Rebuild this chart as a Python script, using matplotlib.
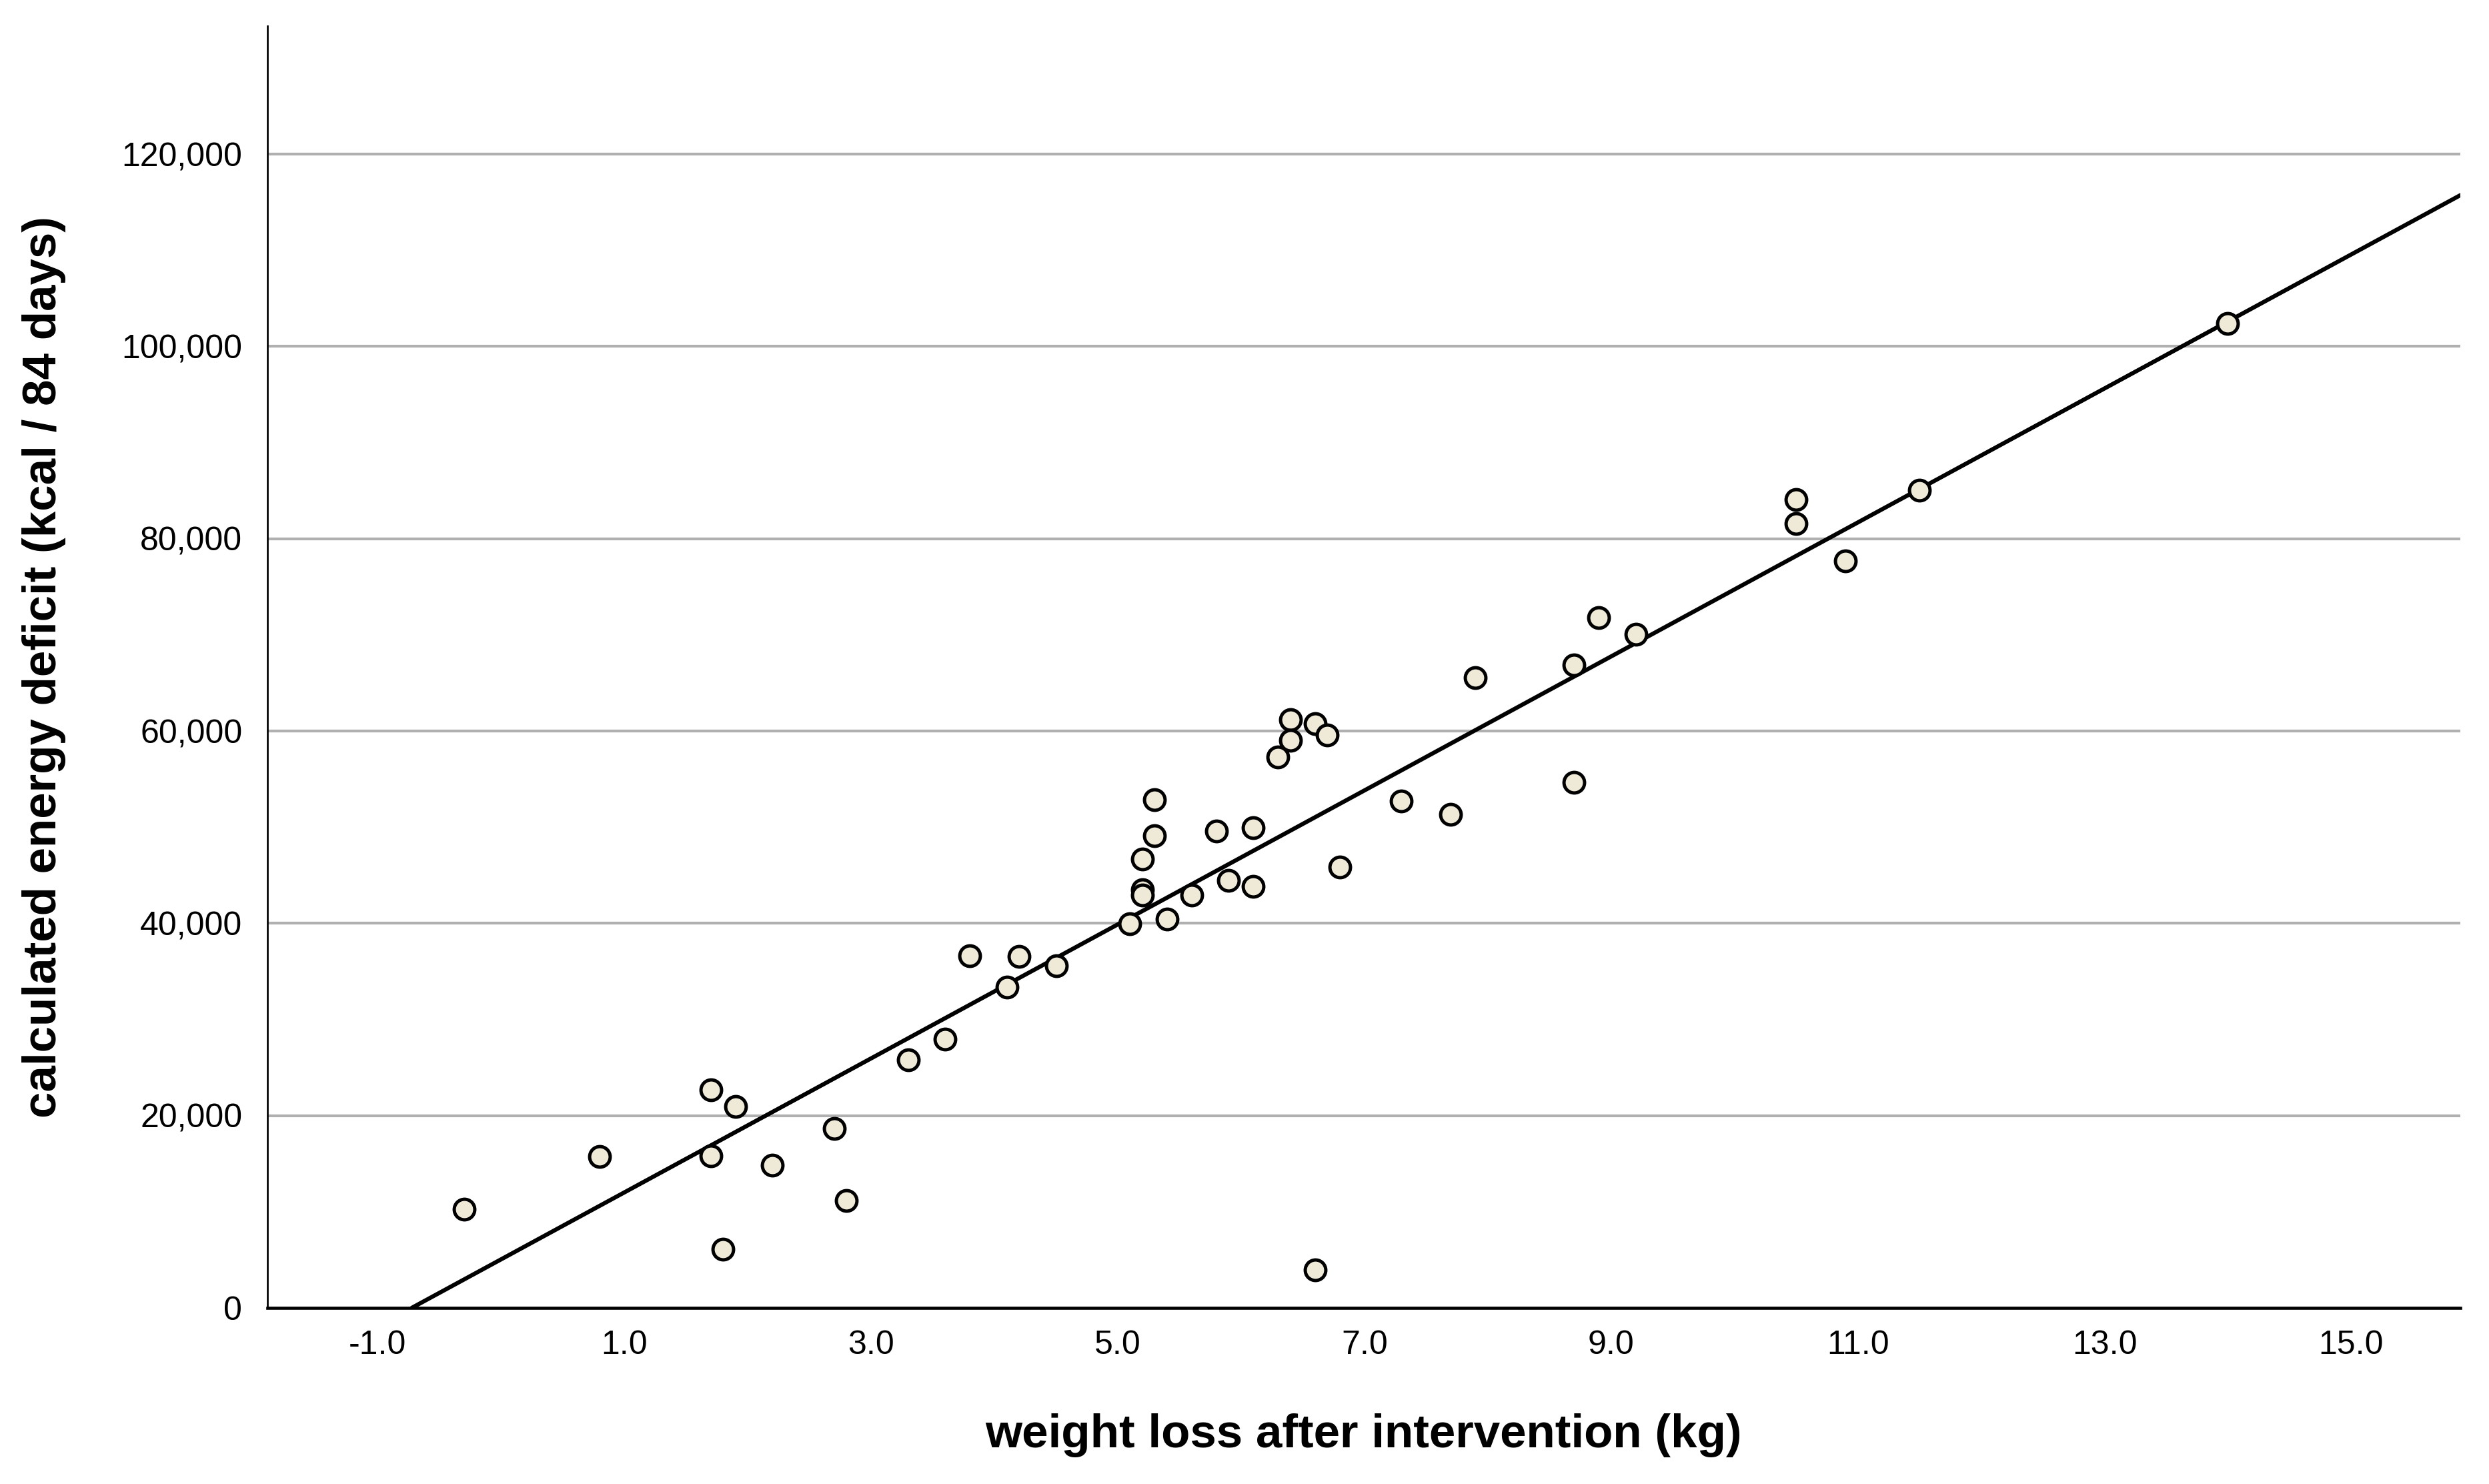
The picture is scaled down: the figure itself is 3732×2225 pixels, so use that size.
import numpy as np
import matplotlib
matplotlib.use("Agg")
import matplotlib.pyplot as plt
from matplotlib.ticker import FuncFormatter, FixedLocator

plt.rcParams['font.family'] = ['Liberation Sans', 'DejaVu Sans']

# weight loss after intervention (kg)
weight_loss = [-0.3, 0.8, 1.7, 1.7, 1.9, 1.8, 2.2, 2.7, 2.8, 3.3, 3.6, 3.8, 4.1, 4.2, 4.5,
               5.1, 5.2, 5.2, 5.2, 5.3, 5.3, 5.4, 5.6, 5.8, 5.9, 6.1, 6.1, 6.3, 6.4, 6.4,
               6.6, 6.7, 6.8, 6.6, 7.3, 7.7, 7.9, 8.7, 8.7, 8.9, 9.2, 10.5, 10.5, 10.9,
               11.5, 14.0]
# calculated energy deficit (kcal / 84 days)
energy_deficit = [10270, 15750, 22710, 15820, 20950, 6120, 14850, 18630, 11170, 25800, 27920,
                  36630, 33360, 36560, 35580, 39920, 46650, 43500, 42920, 52860, 49080, 40440,
                  42930, 49570, 44470, 49920, 43840, 57300, 61190, 59040, 60770, 59600, 45860,
                  3980, 52700, 51330, 65560, 66880, 54630, 71770, 70070, 84050, 81580, 77680,
                  85080, 102400]

x_ticks = [-1.0, 1.0, 3.0, 5.0, 7.0, 9.0, 11.0, 13.0, 15.0]
y_ticks = [0, 20000, 40000, 60000, 80000, 100000, 120000]
x_limits = (-1.895, 15.885)
y_limits = (0, 133350)

fig = plt.figure(figsize=(3732 / 300, 2225 / 300), dpi=300)
ax = fig.add_axes([0.1074, 0.1187, 0.9885 - 0.1074, 0.9826 - 0.1187])

ax.set_xlim(*x_limits)
ax.set_ylim(*y_limits)

# gridlines
ax.yaxis.set_major_locator(FixedLocator(y_ticks))
ax.xaxis.set_major_locator(FixedLocator(x_ticks))
ax.grid(axis='y', color='#b0b0b0', linewidth=1.0, zorder=0)
ax.set_axisbelow(True)

# linear fit line (OLS on the data)
slope, intercept = np.polyfit(weight_loss, energy_deficit, 1)
x0 = max(-intercept / slope, x_limits[0])
xs = np.array([x0, x_limits[1]])
ax.plot(xs, slope * xs + intercept, color='black', linewidth=1.5, zorder=3,
        solid_capstyle='round', clip_on=True)

ax.plot(weight_loss, energy_deficit, linestyle='none', marker='o', markersize=7.4,
        markerfacecolor='#EFE9D7', markeredgecolor='black', markeredgewidth=1.2,
        zorder=4, clip_on=False)

ax.xaxis.set_major_formatter(FuncFormatter(lambda v, p: f"{v:.1f}"))
ax.yaxis.set_major_formatter(FuncFormatter(lambda v, p: f"{int(v):,}"))

ax.tick_params(axis='both', length=0, labelsize=12, colors='black')
ax.tick_params(axis='x', pad=8)
ax.tick_params(axis='y', pad=9)

for s in ['top', 'right']:
    ax.spines[s].set_visible(False)
ax.spines['left'].set_linewidth(0.65)
ax.spines['bottom'].set_linewidth(1.1)
ax.spines['left'].set_zorder(5)
ax.spines['bottom'].set_zorder(5)

ax.set_xlabel('weight loss after intervention (kg)', fontsize=17, fontweight='bold',
              labelpad=19)
ax.set_ylabel('calculated energy deficit (kcal / 84 days)', fontsize=17, fontweight='bold',
              labelpad=20)

fig.savefig('out.png', dpi=300, facecolor='white')
